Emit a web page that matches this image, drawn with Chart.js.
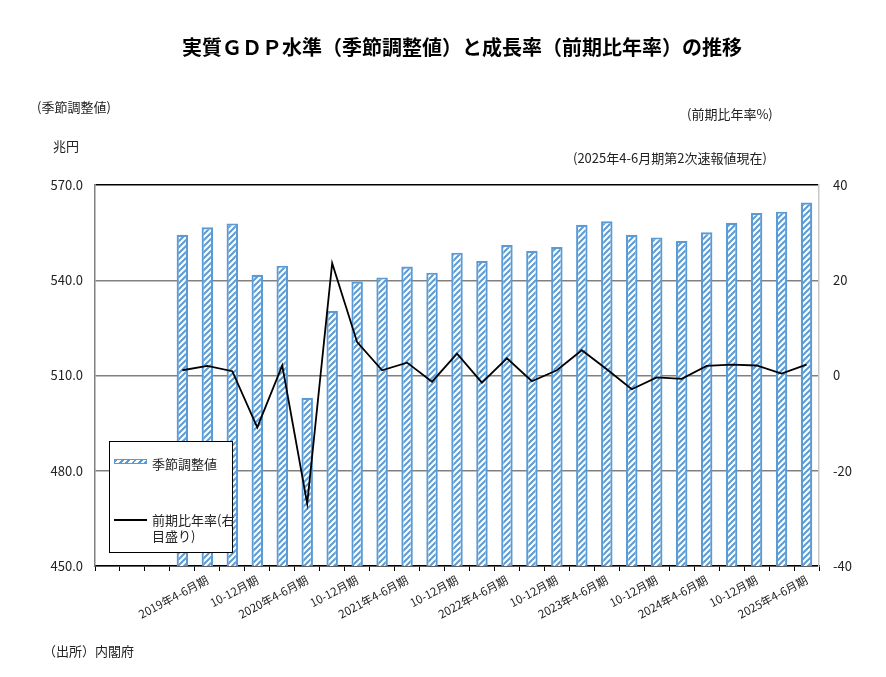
<!DOCTYPE html>
<html>
<head>
<meta charset="utf-8">
<script src="https://cdn.jsdelivr.net/npm/chart.js@4"></script>
<style>
  body { margin: 0; background: #fff; font-family: "Noto Sans CJK JP", sans-serif; color: #222; }
  #wrap { position: relative; width: 886px; height: 677px; }
  .txt { position: absolute; font-size: 13px; line-height: 16px; white-space: nowrap; }
  #title { position: absolute; left: 182px; top: 33px; font-size: 20px; line-height: 28px; font-weight: bold; color: #000; white-space: nowrap; }
  #legend { position: absolute; left: 109px; top: 441px; width: 122px; height: 110px; border: 1px solid #000; background: #fff; }
  #legend .hatch { position: absolute; left: 4px; top: 17px; width: 31px; height: 3px; border: 1px solid #5b9bd5;
    background: repeating-linear-gradient(135deg, #5b9bd5 0 2px, #fff 2px 4.5px); }
  #legend .line { position: absolute; left: 4px; top: 77px; width: 33px; height: 2px; background: #000; }
</style>
</head>
<body>
<div id="wrap">
  <canvas id="myChart" width="886" height="677"></canvas>
  <div id="title">実質ＧＤＰ水準（季節調整値）と成長率（前期比年率）の推移</div>
  <div class="txt" style="left:37px;top:99px">(季節調整値)</div>
  <div class="txt" style="left:53px;top:138px">兆円</div>
  <div class="txt" style="left:687px;top:106px">(前期比年率%)</div>
  <div class="txt" style="left:573px;top:150px">(2025年4-6月期第2次速報値現在)</div>
  <div class="txt" style="left:43px;top:643px">（出所）内閣府</div>
  <div id="legend">
    <div class="hatch"></div>
    <div class="txt" style="left:42px;top:14px">季節調整値</div>
    <div class="line"></div>
    <div class="txt" style="left:42px;top:70px">前期比年率(右<br>目盛り)</div>
  </div>
</div>
<script>
// x categories: 3 empty slots, then 2019年1-3月期 .. 2025年4-6月期 (only every other one labelled)
const tickLabels = [
  "", "", "",
  "", "2019年4-6月期", "", "10-12月期",
  "", "2020年4-6月期", "", "10-12月期",
  "", "2021年4-6月期", "", "10-12月期",
  "", "2022年4-6月期", "", "10-12月期",
  "", "2023年4-6月期", "", "10-12月期",
  "", "2024年4-6月期", "", "10-12月期",
  "", "2025年4-6月期",
];

// 季節調整値 (兆円)
const gdpLevel = [
  null, null, null,
  554.3, 556.7, 557.9, 541.7,
  544.6, 503.0, 530.4, 539.6,
  540.9, 544.3, 542.4, 548.7,
  546.1, 551.1, 549.3, 550.5,
  557.5, 558.6, 554.3, 553.5,
  552.4, 555.1, 558.1, 561.2,
  561.6, 564.5,
];

// 前期比年率 (%)
const growthRate = [
  null, null, null,
  1.1, 2.0, 0.9, -10.9,
  2.1, -26.9, 23.6, 7.0,
  1.1, 2.7, -1.3, 4.6,
  -1.5, 3.6, -1.2, 1.1,
  5.3, 1.3, -2.9, -0.4,
  -0.7, 2.0, 2.3, 2.1,
  0.4, 2.3,
];

const leftTicks = [450, 480, 510, 540, 570];
const rightTicks = [-40, -20, 0, 20, 40];

const blue = "#5b9bd5";

function hatch() {
  const n = 6;
  const c = document.createElement("canvas");
  c.width = n;
  c.height = n;
  const g = c.getContext("2d");
  g.fillStyle = "#fff";
  g.fillRect(0, 0, n, n);
  g.strokeStyle = blue;
  g.lineWidth = 2;
  g.beginPath();
  g.moveTo(-1, n + 1); g.lineTo(n + 1, -1);
  g.moveTo(-1, 1); g.lineTo(1, -1);
  g.moveTo(n - 1, n + 1); g.lineTo(n + 1, n - 1);
  g.stroke();
  return g.createPattern(c, "repeat");
}

const font = { family: "'Noto Sans CJK JP', sans-serif", size: 13 };
const ctx = document.getElementById("myChart");

new Chart(ctx, {
  type: "bar",
  data: {
    labels: tickLabels,
    datasets: [
      {
        type: "line",
        label: "前期比年率(右目盛り)",
        data: growthRate,
        yAxisID: "y2",
        borderColor: "#000",
        borderWidth: 1.8,
        pointRadius: 0,
        tension: 0,
        order: 0,
      },
      {
        label: "季節調整値",
        data: gdpLevel,
        yAxisID: "y",
        backgroundColor: hatch(),
        borderColor: blue,
        borderWidth: 2.2,
        barPercentage: 0.46,
        categoryPercentage: 1,
        order: 1,
      },
    ],
  },
  options: {
    responsive: false,
    animation: false,
    layout: { padding: { top: 185, left: 0, right: 0, bottom: 0 } },
    plugins: {
      legend: { display: false },
      tooltip: { enabled: false },
    },
    scales: {
      x: {
        afterFit: (s) => { s.height = 111; },
        border: { color: "#000", width: 1.5 },
        grid: { drawOnChartArea: false, drawTicks: true, tickLength: 5, color: "#000", offset: true },
        ticks: {
          autoSkip: false,
          minRotation: 28,
          maxRotation: 28,
          padding: 2,
          color: "#222",
          font: { family: font.family, size: 11.5 },
        },
      },
      y: {
        position: "left",
        min: 450,
        max: 570,
        afterFit: (s) => { s.width = 95; },
        afterBuildTicks: (s) => { s.ticks = leftTicks.map((v) => ({ value: v })); },
        border: { color: "#808080", width: 1.5 },
        grid: {
          drawTicks: false,
          lineWidth: 1.5,
          color: (c) => (c.tick && c.tick.value === 570 ? "#000" : "#808080"),
        },
        ticks: {
          padding: 12,
          color: "#222",
          font: font,
          callback: (v) => Number(v).toFixed(1),
        },
      },
      y2: {
        position: "right",
        min: -40,
        max: 40,
        afterFit: (s) => { s.width = 67; },
        afterBuildTicks: (s) => { s.ticks = rightTicks.map((v) => ({ value: v })); },
        border: { color: "#c8c8c8", width: 1.5 },
        grid: { display: false, drawTicks: false },
        ticks: {
          padding: 14,
          color: "#222",
          font: font,
        },
      },
    },
  },
});
</script>
</body>
</html>
